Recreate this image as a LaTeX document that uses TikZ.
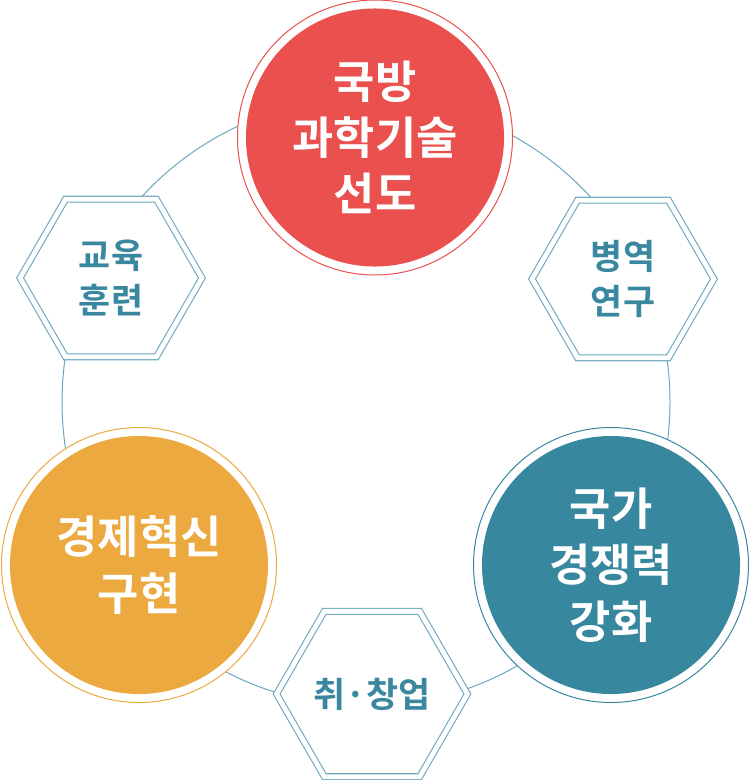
\documentclass[tikz,border=0pt]{standalone}
\usepackage{fontspec}
\setmainfont{Noto Sans CJK KR}[BoldFont={Noto Sans CJK KR Bold}]
\usetikzlibrary{shapes.geometric}
\definecolor{redc}{HTML}{E9504E}
\definecolor{tealc}{HTML}{37879F}
\definecolor{orangec}{HTML}{EBA940}
\definecolor{hexline}{HTML}{6BA7BD}
\definecolor{hextext}{HTML}{3A87A0}
\tikzset{
  bigc/.style={circle, minimum size=259pt, inner sep=0pt, text=white, align=center,
    font=\bfseries\fontsize{45}{56.5}\selectfont},
  ring/.style={line width=1pt, fill=white},
  hexbox/.style={regular polygon, regular polygon sides=6, shape border rotate=0,
    minimum size=182.6pt, inner sep=0pt, draw=hexline, line width=1.1pt,
    double=white, double distance=4.8pt, fill=white, text=hextext, align=center,
    font=\bfseries\fontsize{35}{45}\selectfont},
  orbit/.style={draw=hexline, line width=1pt}
}
\begin{document}
\begin{tikzpicture}[x=1bp,y=-1bp]
\useasboundingbox (0,0) rectangle (750,780);
\coordinate (mid) at (366,402);
\draw[orbit] (mid) circle (304);
% rings
\coordinate (cred) at (375,137.5);
\coordinate (cteal) at (611,565);
\coordinate (corange) at (139,565);
\draw[ring, draw=redc] (cred) circle (137.5);
\draw[ring, draw=tealc] (cteal) circle (137.5);
\draw[ring, draw=orangec] (corange) circle (137.5);
% main circles
\node[bigc, fill=redc] (tech) at (cred) {국방\\과학기술\\선도};
\node[bigc, fill=tealc] (nation) at (cteal) {국가\\경쟁력\\강화};
\node[bigc, fill=orangec] (econ) at (corange) {\raisebox{-6pt}{\parbox{6cm}{\centering 경제혁신\\구현}}};
% hexagons
\node[hexbox] (edu) at (111,278) {교육\\훈련};
\node[hexbox] (mil) at (623,279) {병역\\연구};
\node[hexbox] (job) at (372,694) {취·창업};
\end{tikzpicture}
\end{document}
